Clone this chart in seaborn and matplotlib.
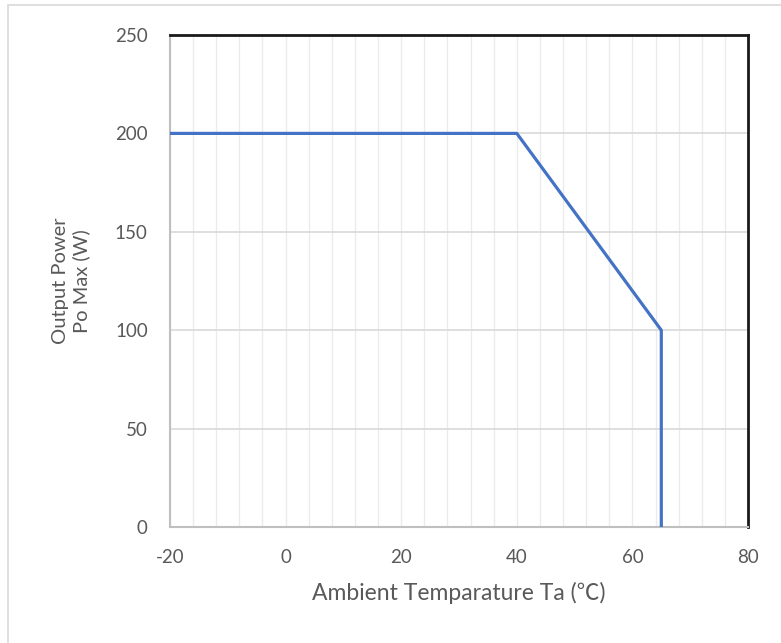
import matplotlib
matplotlib.use("Agg")
import matplotlib.pyplot as plt
import seaborn as sns
import pandas as pd
from matplotlib.patches import Rectangle

temperature = [-20, 40, 65, 65]
power = [200, 200, 100, 0]
x_ticks = [-20, 0, 20, 40, 60, 80]
y_ticks = [0, 50, 100, 150, 200, 250]

sns.set_style("white")
plt.rcParams['font.family'] = ['Lato', 'Noto Sans CJK JP', 'DejaVu Sans']
plt.rcParams['axes.unicode_minus'] = False

df = pd.DataFrame({"Ta": temperature, "Po": power})

fig = plt.figure(figsize=(7.81, 6.43), dpi=100)
ax = fig.add_axes([170/781, 1-527/643, (748-170)/781, (527-35)/643])

# minor vertical grid every 4 units
for xv in range(-20, 81, 4):
    ax.axvline(xv, color="#EBEBEB", lw=1.0, zorder=0)
for yv in y_ticks[1:-1]:
    ax.axhline(yv, color="#D9D9D9", lw=1.2, zorder=0)

sns.lineplot(data=df, x="Ta", y="Po", sort=False, estimator=None, ax=ax,
             color="#4472C4", lw=2.3, zorder=3)

ax.set_xlim(-20, 80)
ax.set_ylim(0, 250)
ax.set_xticks(x_ticks)
ax.set_yticks(y_ticks)
ax.tick_params(length=0, labelsize=13.5, colors="#595959", pad=16)
ax.set_xlabel("Ambient Temparature Ta (℃)", fontsize=16.5, color="#595959", labelpad=11)
ax.set_ylabel("Output Power\nPo Max (W)", fontsize=14.5, color="#595959", labelpad=18,
              linespacing=1.2)

for side in ["left", "bottom"]:
    ax.spines[side].set_color("#BFBFBF")
    ax.spines[side].set_linewidth(1.5)
for side in ["top", "right"]:
    ax.spines[side].set_color("#1A1A1A")
    ax.spines[side].set_linewidth(2.0)

fig.patches.append(Rectangle((8/781, -0.05), 1.0, 1 - 5/643 + 0.05,
                             transform=fig.transFigure, fill=False,
                             edgecolor="#D9D9D9", lw=1.2, clip_on=False))

fig.savefig("out.png", dpi=100)
